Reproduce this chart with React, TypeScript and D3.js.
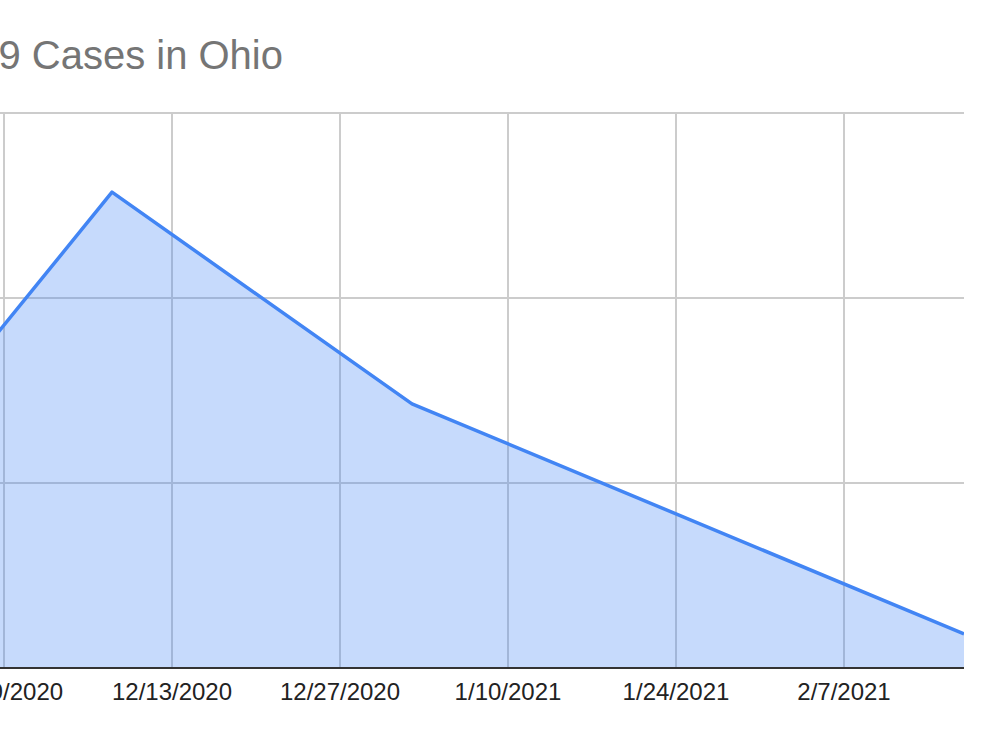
import React from "react";
import * as d3 from "d3";

const dates: string[] = ["2020-11-24", "2020-12-08", "2021-01-02", "2021-02-17"];
const cases: number[] = [7270, 12860, 7140, 920];
const xTickDates: string[] = ["2020-11-29", "2020-12-13", "2020-12-27", "2021-01-10", "2021-01-24", "2021-02-07"];
const yTicks: number[] = [0, 5000, 10000, 15000];
const title = "COVID-19 Cases in Ohio";

const W = 990;
const H = 742;

const parse = (s: string) => new Date(s + "T00:00:00Z");
const fmt = (d: Date) => `${d.getUTCMonth() + 1}/${d.getUTCDate()}/${d.getUTCFullYear()}`;

export default function App() {
  const x = d3
    .scaleUtc()
    .domain([parse("2020-11-29"), parse("2021-02-17")])
    .range([4, 964]);
  const y = d3.scaleLinear().domain([0, 15000]).range([668, 113]);
  const data = dates.map((d, i) => ({ date: parse(d), v: cases[i] }));
  const area = d3
    .area<{ date: Date; v: number }>()
    .x((d) => x(d.date))
    .y0(y(0))
    .y1((d) => y(d.v));
  const line = d3
    .line<{ date: Date; v: number }>()
    .x((d) => x(d.date))
    .y((d) => y(d.v));
  const font = "'Liberation Sans', Arial, sans-serif";
  return (
    <svg
      width={W}
      height={H}
      style={{ position: "absolute", left: 0, top: 0, background: "#fff" }}
    >
      <rect x={0} y={0} width={W} height={H} fill="#fff" />
      <text
        x={283}
        y={69}
        textAnchor="end"
        fontFamily={font}
        fontSize={40}
        fill="#757575"
      >
        {title}
      </text>
      <defs>
        <clipPath id="plot">
          <rect x={-2000} y={0} width={2000 + 964} height={H} />
        </clipPath>
      </defs>
      <g>
        {yTicks.map((t) => (
          <line
            key={"h" + t}
            x1={-2000}
            x2={964}
            y1={y(t)}
            y2={y(t)}
            stroke="#cccccc"
            strokeWidth={2}
          />
        ))}
        {xTickDates.map((d) => (
          <line
            key={"v" + d}
            x1={x(parse(d))}
            x2={x(parse(d))}
            y1={y(15000)}
            y2={y(0)}
            stroke="#cccccc"
            strokeWidth={2}
          />
        ))}
      </g>
      <g clipPath="url(#plot)">
        <path d={area(data) || ""} fill="#4285f4" fillOpacity={0.3} />
        <path
          d={line(data) || ""}
          fill="none"
          stroke="#4285f4"
          strokeWidth={3.5}
          strokeLinejoin="round"
        />
      </g>
      <line x1={-2000} x2={964} y1={y(0)} y2={y(0)} stroke="#333333" strokeWidth={2} />
      {xTickDates.map((d) => (
        <text
          key={"t" + d}
          x={x(parse(d))}
          y={700}
          textAnchor="middle"
          fontFamily={font}
          fontSize={24}
          fill="#222222"
        >
          {fmt(parse(d))}
        </text>
      ))}
    </svg>
  );
}
